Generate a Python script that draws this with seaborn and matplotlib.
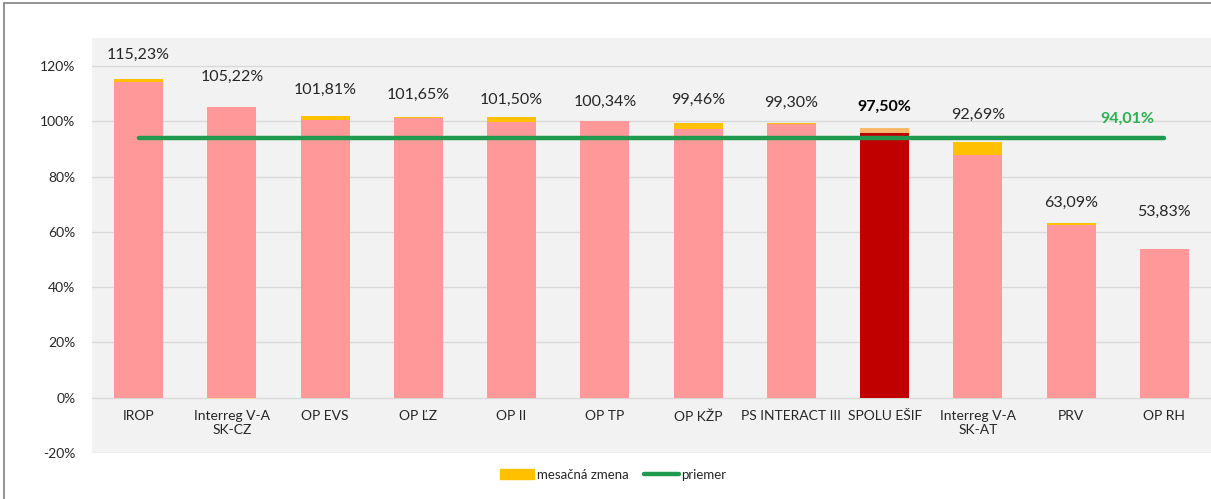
import pandas as pd
import matplotlib.pyplot as plt
import seaborn as sns
from matplotlib.lines import Line2D
from matplotlib.patches import Patch
from matplotlib.ticker import FuncFormatter

# Data
categories = ["IROP", "Interreg V-A\nSK-CZ", "OP EVS", "OP ĽZ", "OP II", "OP TP",
              "OP KŽP", "PS INTERACT III", "SPOLU EŠIF", "Interreg V-A\nSK-AT", "PRV", "OP RH"]
totals = [115.23, 105.22, 101.81, 101.65, 101.50, 100.34, 99.46, 99.30, 97.50, 92.69, 63.09, 53.83]
base = [114.2, 105.22, 100.4, 101.4, 99.9, 100.34, 97.3, 99.2, 95.9, 87.9, 62.7, 53.83]
change = [1.0, -0.5, 1.4, 0.3, 1.6, 0.0, 2.2, 0.1, 1.6, 4.8, 0.4, 0.0]
average = 94.01
y_ticks = [-20, 0, 20, 40, 60, 80, 100, 120]

# label lift above the bar top, in pixels
label_dy = [24, 30, 27, 22, 17, 19, 23, 20, 22, 27, 21, 37]

PINK = "#ff9999"
DARK_RED = "#c00000"
YELLOW = "#ffc000"
GREEN = "#1f9a4f"

sns.set_style("white")
plt.rcParams["font.family"] = ["Lato", "DejaVu Sans"]

df = pd.DataFrame({"cat": categories, "base": base, "change": change, "total": totals})

fig = plt.figure(figsize=(12.11, 4.99), dpi=100)
ax = fig.add_axes([92 / 1211, 1 - 453 / 499, 1 - 92 / 1211, (453 - 38) / 499])
ax.set_facecolor("#f2f2f2")

palette = {c: (DARK_RED if c == "SPOLU EŠIF" else PINK) for c in categories}
sns.barplot(data=df, x="cat", y="base", hue="cat", palette=palette, legend=False,
            width=0.525, saturation=1, linewidth=0, ax=ax, zorder=2)

# monthly change stacked on top (negative ones hang below zero)
pos = list(range(len(categories)))
bottoms = [b if c >= 0 else 0 for b, c in zip(df["base"], df["change"])]
chg_colors = ["#f7b96a" if c == "SPOLU EŠIF" else YELLOW for c in categories]
chg_colors[1] = "#fbd9a8"
ax.bar(pos, df["change"], bottom=bottoms, width=0.525, color=chg_colors,
       linewidth=0, zorder=2)

# average line
ax.plot([pos[0], pos[-1]], [average, average], color=GREEN, lw=3.2, zorder=3,
        solid_capstyle="round")
ax.annotate(f"{average:.2f}%".replace(".", ","), xy=(10.6, average), xytext=(0, 19),
            textcoords="offset pixels", ha="center", va="center",
            color="#2db153", fontsize=11.5, fontweight="bold")

# value labels
for i, (t, dy) in enumerate(zip(totals, label_dy)):
    bold = categories[i] == "SPOLU EŠIF"
    ax.annotate(f"{t:.2f}%".replace(".", ","), xy=(i, t), xytext=(0, dy),
                textcoords="offset pixels", ha="center", va="center",
                fontsize=11.5, color="black" if bold else "#262626",
                fontweight="bold" if bold else "normal")

ax.set_xlim(-0.5, 11.5)
ax.set_ylim(-20, 130.2)
ax.set_yticks(y_ticks)
ax.yaxis.set_major_formatter(FuncFormatter(lambda v, _: f"{int(v)}%"))
ax.yaxis.grid(True, color="#d9d9d9", lw=1, zorder=0)
ax.set_axisbelow(True)
for s in ax.spines.values():
    s.set_visible(False)
ax.spines["bottom"].set_position(("data", 0))
ax.tick_params(axis="x", length=0, pad=9, labelsize=10, labelcolor="#262626")
ax.tick_params(axis="y", length=0, pad=12, labelsize=10, labelcolor="#262626")
ax.set_xlabel("")
ax.set_ylabel("")

# legend below
handles = [Patch(color=YELLOW, label="mesačná zmena"),
           Line2D([0], [0], color=GREEN, lw=3.2, label="priemer")]
fig.legend(handles=handles, loc="center", bbox_to_anchor=(613 / 1211, 1 - 475 / 499),
           ncol=2, frameon=False, fontsize=9.5, handlelength=2.6, handleheight=0.8,
           columnspacing=1.2, handletextpad=0.2, labelcolor="#262626")

# outer chart border (top and left visible)
fig.add_artist(Line2D([4 / 1211, 4 / 1211], [0, 1 - 3 / 499], color="#808080", lw=1.2,
                      transform=fig.transFigure))
fig.add_artist(Line2D([4 / 1211, 1], [1 - 3 / 499, 1 - 3 / 499], color="#808080", lw=1.2,
                      transform=fig.transFigure))

fig.savefig("out.png", dpi=100)
